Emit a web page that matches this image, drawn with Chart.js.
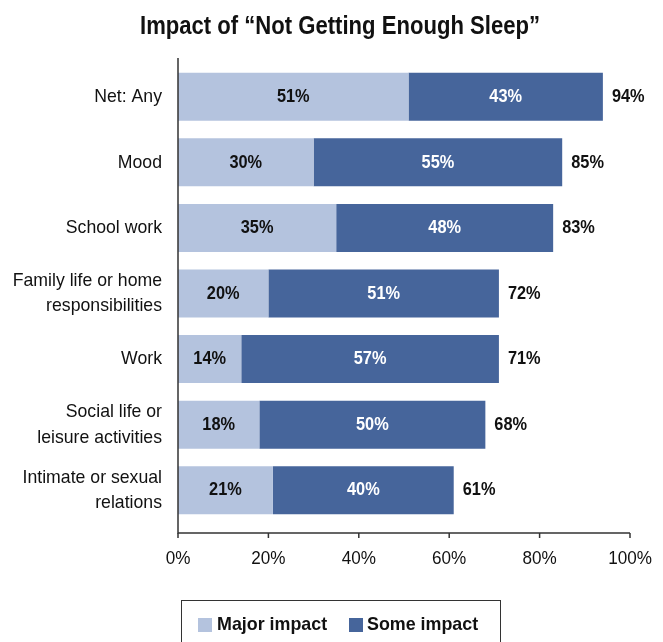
<!DOCTYPE html>
<html>
<head>
<meta charset="utf-8">
<script src="https://cdn.jsdelivr.net/npm/chart.js@4.4.0/dist/chart.umd.min.js"></script>
<style>
  html, body { margin: 0; padding: 0; background: #ffffff; }
  #wrap { width: 663px; height: 642px; position: relative; }
</style>
</head>
<body>
<div id="wrap"><canvas id="c" width="663" height="642"></canvas></div>
<script>
const titleText = "Impact of \u201CNot Getting Enough Sleep\u201D";
const categories = [
  "Net: Any",
  "Mood",
  "School work",
  ["Family life or home", "responsibilities"],
  "Work",
  ["Social life or", "leisure activities"],
  ["Intimate or sexual", "relations"]
];
const majorImpact = [51, 30, 35, 20, 14, 18, 21];
const someImpact  = [43, 55, 48, 51, 57, 50, 40];
const totalLabels = [94, 85, 83, 72, 71, 68, 61];
const seriesNames = ["Major impact", "Some impact"];
const xTickValues = [0, 20, 40, 60, 80, 100];

const LIGHT = "#B4C3DE";
const DARK = "#46659B";
const AXIS = "#333333";
const INK = "#111111";
const FAMILY = '"Liberation Sans", Arial, sans-serif';

function sText(ctx, text, x, y, align, sx) {
  ctx.save();
  ctx.translate(x, y);
  ctx.scale(sx, 1);
  ctx.textAlign = align;
  ctx.textBaseline = "middle";
  ctx.fillText(text, 0, 0);
  ctx.restore();
}

const overlay = {
  id: "overlay",
  afterDatasetsDraw(chart) {
    const ctx = chart.ctx;
    const x = chart.scales.x, y = chart.scales.y;
    const area = chart.chartArea;
    ctx.save();
    // axes
    ctx.strokeStyle = AXIS;
    ctx.lineWidth = 1.5;
    const x0 = x.getPixelForValue(0);
    const axisY = area.bottom + 10;
    ctx.beginPath();
    ctx.moveTo(x0, area.top - 6);
    ctx.lineTo(x0, axisY);
    ctx.lineTo(x.getPixelForValue(100), axisY);
    ctx.stroke();
    ctx.font = "19px " + FAMILY;
    xTickValues.forEach(v => {
      const px = x.getPixelForValue(v);
      ctx.beginPath();
      ctx.moveTo(px, axisY);
      ctx.lineTo(px, axisY + 5);
      ctx.stroke();
      ctx.fillStyle = INK;
      sText(ctx, v + "%", px, axisY + 26, "center", 0.9);
    });
    // category labels
    ctx.font = "19px " + FAMILY;
    ctx.fillStyle = INK;
    categories.forEach((c, i) => {
      const lines = Array.isArray(c) ? c : [c];
      const cy = y.getPixelForValue(i);
      const lh = 25.5;
      lines.forEach((ln, k) => {
        const ly = cy + (k - (lines.length - 1) / 2) * lh;
        sText(ctx, ln, x0 - 16, ly, "right", 0.93);
      });
    });
    // data labels
    ctx.font = "bold 19px " + FAMILY;
    const m0 = chart.getDatasetMeta(0), m1 = chart.getDatasetMeta(1);
    m0.data.forEach((bar, i) => {
      ctx.fillStyle = INK;
      sText(ctx, majorImpact[i] + "%", (bar.base + bar.x) / 2, bar.y, "center", 0.86);
      const b1 = m1.data[i];
      ctx.fillStyle = "#ffffff";
      sText(ctx, someImpact[i] + "%", (b1.base + b1.x) / 2, b1.y, "center", 0.86);
      ctx.fillStyle = INK;
      sText(ctx, totalLabels[i] + "%", b1.x + 9, b1.y, "left", 0.86);
    });
    // title
    ctx.font = "bold 26px " + FAMILY;
    ctx.fillStyle = INK;
    const tw = ctx.measureText(titleText).width;
    sText(ctx, titleText, 340, 27, "center", 400 / tw);
    // legend
    ctx.strokeStyle = AXIS;
    ctx.lineWidth = 1;
    ctx.strokeRect(181.5, 600.5, 319, 60);
    ctx.font = "bold 19px " + FAMILY;
    ctx.fillStyle = LIGHT;
    ctx.fillRect(198, 618, 14, 14);
    ctx.fillStyle = INK;
    sText(ctx, seriesNames[0], 217, 625, "left", 0.94);
    ctx.fillStyle = DARK;
    ctx.fillRect(349, 618, 14, 14);
    ctx.fillStyle = INK;
    sText(ctx, seriesNames[1], 367, 625, "left", 0.94);
    ctx.restore();
  }
};

new Chart(document.getElementById("c"), {
  type: "bar",
  data: {
    labels: categories,
    datasets: [
      { label: seriesNames[0], data: majorImpact, backgroundColor: LIGHT },
      { label: seriesNames[1], data: someImpact, backgroundColor: DARK }
    ]
  },
  options: {
    indexAxis: "y",
    responsive: false,
    animation: false,
    devicePixelRatio: 1,
    layout: { padding: { top: 64, right: 33, left: 0, bottom: 0 } },
    plugins: { legend: { display: false }, title: { display: false }, tooltip: { enabled: false } },
    datasets: { bar: { categoryPercentage: 1, barPercentage: 0.732, borderWidth: 0 } },
    scales: {
      x: {
        stacked: true, min: 0, max: 100,
        afterFit(s) { s.height = 119; s.paddingLeft = 0; s.paddingRight = 0; },
        afterBuildTicks(s) { s.ticks = xTickValues.map(v => ({ value: v })); },
        grid: { display: false, drawTicks: false, tickLength: 0 },
        border: { display: false },
        ticks: { display: false }
      },
      y: {
        stacked: true,
        afterFit(s) { s.width = 178; },
        grid: { display: false, drawTicks: false, tickLength: 0 },
        border: { display: false },
        ticks: { display: false }
      }
    }
  },
  plugins: [overlay]
});
</script>
</body>
</html>
